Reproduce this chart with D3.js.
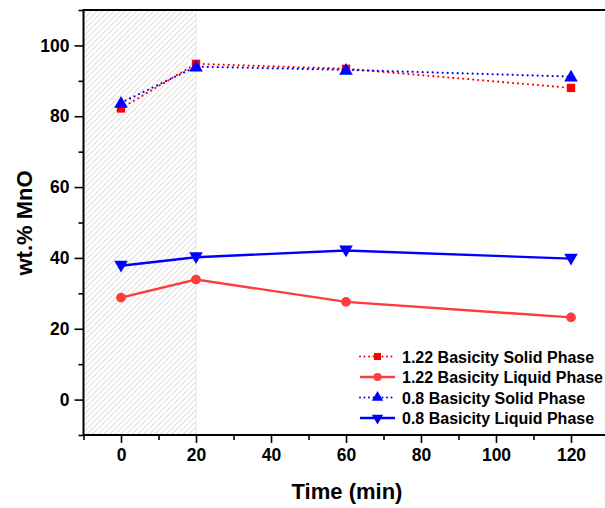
<!DOCTYPE html>
<html><head><meta charset="utf-8">
<script src="https://cdn.jsdelivr.net/npm/d3@7"></script>
<style>body{margin:0;background:#fff}svg{display:block}</style>
</head><body>
<script>
const times = [0, 20, 60, 120];
const solid122 = [82.2, 94.8, 93.4, 88.0];
const liquid122 = [28.8, 33.9, 27.6, 23.2];
const solid08 = [83.8, 94.0, 93.1, 91.2];
const liquid08 = [37.8, 40.2, 42.1, 39.8];
const seriesNames = ["1.22 Basicity Solid Phase", "1.22 Basicity Liquid Phase", "0.8 Basicity Solid Phase", "0.8 Basicity Liquid Phase"];
const xTicks = [0, 20, 40, 60, 80, 100, 120];
const yTicks = [0, 20, 40, 60, 80, 100];
const hatchRange = [-10, 20];

const W = 605, H = 508;
const svg = d3.select("body").append("svg").attr("width", W).attr("height", H);
const x = d3.scaleLinear().domain([-10, 130]).range([83.5, 608.5]);
const y = d3.scaleLinear().domain([-10, 110]).range([435, 10]);

const defs = svg.append("defs");
const pat = defs.append("pattern").attr("id", "hatch").attr("patternUnits", "userSpaceOnUse")
  .attr("width", 4).attr("height", 4).attr("patternTransform", "rotate(45)");
pat.append("line").attr("x1", 0).attr("y1", 0).attr("x2", 0).attr("y2", 4)
  .attr("stroke", "#c8c8c8").attr("stroke-width", 1.2);

svg.append("rect").attr("x", x(hatchRange[0])).attr("y", y(110))
  .attr("width", x(hatchRange[1]) - x(hatchRange[0])).attr("height", y(-10) - y(110))
  .attr("fill", "url(#hatch)");
svg.append("line").attr("x1", x(20)).attr("x2", x(20)).attr("y1", y(110)).attr("y2", y(-10))
  .attr("stroke", "#e6e6e6").attr("stroke-width", 1);

// axes
const fontFam = "'Liberation Sans', Arial, sans-serif";
const xAxis = d3.axisBottom(x).tickValues(xTicks).tickSize(8).tickPadding(6).tickFormat(d3.format("d"));
const xMinor = d3.axisBottom(x).tickValues(d3.range(-10, 131, 20)).tickSize(5).tickFormat("");
svg.append("g").attr("transform", `translate(0,${y(-10)})`).call(xAxis);
svg.append("g").attr("transform", `translate(0,${y(-10)})`).call(xMinor);
const yAxis = d3.axisLeft(y).tickValues(yTicks).tickSize(9).tickPadding(5).tickFormat(d3.format("d"));
const yMinor = d3.axisLeft(y).tickValues(d3.range(-10, 111, 20)).tickSize(5).tickFormat("");
svg.append("g").attr("transform", `translate(${x(-10)},0)`).call(yAxis);
svg.append("g").attr("transform", `translate(${x(-10)},0)`).call(yMinor);
svg.selectAll(".domain").remove();
svg.selectAll(".tick line").attr("stroke", "#000").attr("stroke-width", 1.6);
svg.selectAll(".tick text").attr("font-family", fontFam).attr("font-weight", "bold")
  .attr("font-size", 17.5).attr("fill", "#000");

// frame
svg.append("rect").attr("x", x(-10)).attr("y", y(110)).attr("width", x(130) - x(-10))
  .attr("height", y(-10) - y(110)).attr("fill", "none").attr("stroke", "#000").attr("stroke-width", 2);

// titles
svg.append("text").attr("x", 347).attr("y", 499).attr("text-anchor", "middle")
  .attr("font-family", fontFam).attr("font-weight", "bold").attr("font-size", 22).text("Time (min)");
svg.append("text").attr("transform", "translate(32,223) rotate(-90)").attr("text-anchor", "middle")
  .attr("font-family", fontFam).attr("font-weight", "bold").attr("font-size", 22).text("wt.% MnO");

const series = [
  {name: seriesNames[0], vals: solid122, color: "#ff0000", dotted: true, sym: d3.symbolSquare, size: 70, rot: 0},
  {name: seriesNames[1], vals: liquid122, color: "#ff3c3c", dotted: false, sym: d3.symbolCircle, size: 75, rot: 0},
  {name: seriesNames[2], vals: solid08, color: "#0000ff", dotted: true, sym: d3.symbolTriangle, size: 80, rot: 0},
  {name: seriesNames[3], vals: liquid08, color: "#0000ff", dotted: false, sym: d3.symbolTriangle, size: 80, rot: 180},
];

const line = d3.line().x(d => x(d[0])).y(d => y(d[1]));
series.forEach(s => {
  const pts = times.map((t, i) => [t, s.vals[i]]);
  const p = svg.append("path").attr("d", line(pts)).attr("fill", "none").attr("stroke", s.color);
  if (s.dotted) p.attr("stroke-width", 2.2).attr("stroke-dasharray", "0 5").attr("stroke-linecap", "round");
  else p.attr("stroke-width", 2.4);
  svg.selectAll(null).data(pts).enter().append("path")
    .attr("d", d3.symbol().type(s.sym).size(s.size))
    .attr("transform", d => `translate(${x(d[0])},${y(d[1]) + (s.sym === d3.symbolTriangle ? (s.rot ? -1 : 1) : 0)}) rotate(${s.rot})`)
    .attr("fill", s.color);
});

// legend
const lg = svg.append("g");
series.forEach((s, i) => {
  const yy = 356.5 + i * 20.5;
  const l = lg.append("line").attr("x1", 360).attr("x2", 395).attr("y1", yy).attr("y2", yy).attr("stroke", s.color);
  if (s.dotted) l.attr("stroke-width", 2).attr("stroke-dasharray", "0 4.5").attr("stroke-linecap", "round");
  else l.attr("stroke-width", 2.4);
  lg.append("path").attr("d", d3.symbol().type(s.sym).size(s.size * 0.7))
    .attr("transform", `translate(377.5,${yy}) rotate(${s.rot})`).attr("fill", s.color);
  lg.append("text").attr("x", 402).attr("y", yy + 6).attr("font-family", fontFam)
    .attr("font-weight", "bold").attr("font-size", 16).text(s.name);
});
</script>
</body></html>
